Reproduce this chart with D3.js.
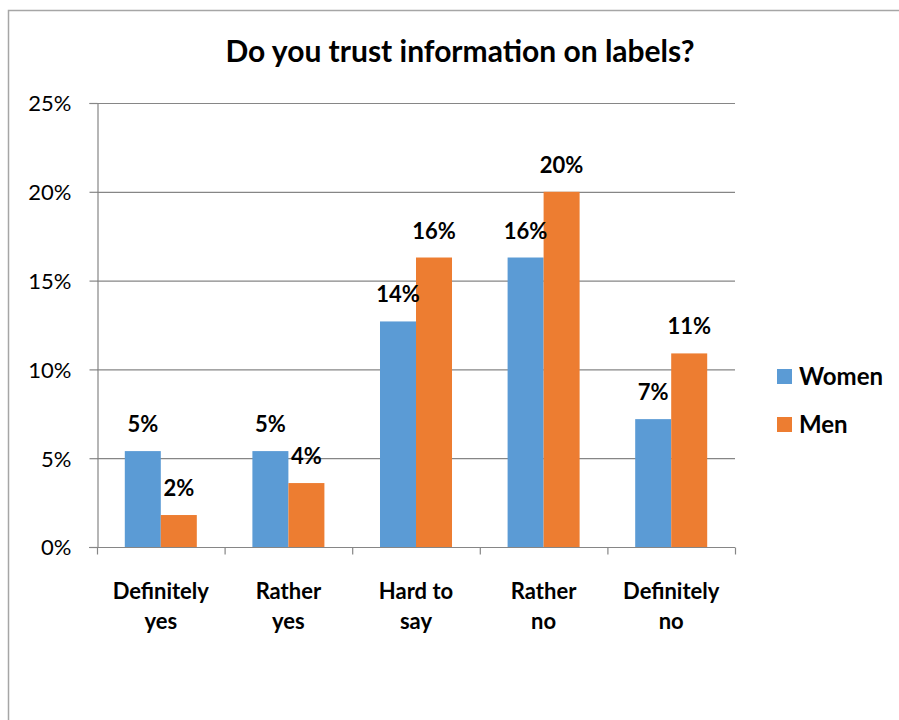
<!DOCTYPE html>
<html>
<head>
<meta charset="utf-8">
<script src="https://cdn.jsdelivr.net/npm/d3@7"></script>
<style>
  body { margin: 0; background: #fff; }
  svg { display: block; font-family: Lato, "Open Sans", sans-serif; }
</style>
</head>
<body>
<svg id="chart" width="899" height="720"></svg>
<script>
// === DATA ===
const categories = [["Definitely", "yes"], ["Rather", "yes"], ["Hard to", "say"], ["Rather", "no"], ["Definitely", "no"]];
const seriesNames = ["Women", "Men"];
const women = [5.4, 5.4, 12.7, 16.3, 7.2];
const men = [1.8, 3.6, 16.3, 20.0, 10.9];
const womenLabels = ["5%", "5%", "14%", "16%", "7%"];
const menLabels = ["2%", "4%", "16%", "20%", "11%"];
const yTicks = [0, 5, 10, 15, 20, 25];
const colors = ["#5B9BD5", "#ED7D31"];

// === LAYOUT ===
const svg = d3.select("#chart");
const plotLeft = 97, plotRight = 735, plotTop = 103, plotBottom = 547;

// chart frame
svg.append("path")
  .attr("d", "M8.5,720 V10.5 H899")
  .attr("fill", "none").attr("stroke", "#a6a6a6").attr("stroke-width", 1.5);

svg.append("text")
  .attr("x", 460).attr("y", 62)
  .attr("text-anchor", "middle")
  .attr("font-size", 30).attr("font-weight", "bold")
  .text("Do you trust information on labels?");

// === SCALES ===
const x0 = d3.scaleBand().domain(d3.range(categories.length)).range([plotLeft, plotRight]);
const x1 = d3.scaleBand().domain(seriesNames).range([0, x0.bandwidth()]).paddingOuter(0.772);
const y = d3.scaleLinear().domain([0, 25]).range([plotBottom, plotTop]);

// gridlines
svg.append("g").selectAll("line")
  .data(yTicks.slice(1))
  .join("line")
  .attr("x1", plotLeft).attr("x2", plotRight)
  .attr("y1", d => y(d) + 0.5).attr("y2", d => y(d) + 0.5)
  .attr("stroke", "#868686").attr("stroke-width", 1.2);

// y axis
const yAxis = svg.append("g")
  .attr("transform", `translate(${plotLeft + 0.5},0)`)
  .call(d3.axisLeft(y).tickValues(yTicks).tickSize(8).tickFormat(d => d + "%"));
yAxis.select(".domain").attr("stroke", "#868686").attr("stroke-width", 1.2);
yAxis.selectAll(".tick line").attr("stroke", "#868686").attr("stroke-width", 1.2);
yAxis.selectAll(".tick text")
  .attr("x", -26).attr("dy", "0.36em")
  .attr("font-size", 22).attr("fill", "#000")
  .attr("font-family", "Lato, sans-serif");

// bars
const series = [women, men];
const labels = [womenLabels, menLabels];
const groups = svg.append("g").selectAll("g")
  .data(categories.map((c, i) => i))
  .join("g")
  .attr("transform", i => `translate(${x0(i)},0)`);

groups.selectAll("rect")
  .data(i => seriesNames.map((s, k) => ({ s, k, v: series[k][i] })))
  .join("rect")
  .attr("x", d => x1(d.s))
  .attr("y", d => y(d.v))
  .attr("width", x1.bandwidth())
  .attr("height", d => y(0) - y(d.v))
  .attr("fill", d => colors[d.k]);

groups.selectAll("text.lbl")
  .data(i => seriesNames.map((s, k) => ({ s, k, v: series[k][i], t: labels[k][i] })))
  .join("text")
  .attr("class", "lbl")
  .attr("x", d => x1(d.s) + x1.bandwidth() / 2)
  .attr("y", d => y(d.v) - 19)
  .attr("text-anchor", "middle")
  .attr("font-size", 22).attr("font-weight", "bold")
  .text(d => d.t);

// x axis
const xAxis = svg.append("g").attr("transform", `translate(0,${plotBottom + 0.5})`);
xAxis.append("line").attr("x1", plotLeft - 8).attr("x2", plotRight).attr("stroke", "#868686").attr("stroke-width", 1.2);
xAxis.selectAll("line.tk")
  .data(d3.range(categories.length + 1))
  .join("line")
  .attr("class", "tk")
  .attr("x1", i => plotLeft + i * x0.step() + 0.5).attr("x2", i => plotLeft + i * x0.step() + 0.5)
  .attr("y1", 0).attr("y2", 7)
  .attr("stroke", "#868686").attr("stroke-width", 1.2);

const catText = svg.append("g").selectAll("text")
  .data(categories)
  .join("text")
  .attr("text-anchor", "middle")
  .attr("font-size", 22).attr("font-weight", "bold")
  .attr("x", (d, i) => x0(i) + x0.bandwidth() / 2);
catText.each(function(d, i) {
  d3.select(this).selectAll("tspan")
    .data(d)
    .join("tspan")
    .attr("x", x0(i) + x0.bandwidth() / 2)
    .attr("y", (t, j) => 599 + j * 30)
    .text(t => t);
});

// legend
const legend = svg.append("g").selectAll("g")
  .data(seriesNames)
  .join("g")
  .attr("transform", (d, i) => `translate(777,${369 + i * 48})`);
legend.append("rect").attr("width", 15).attr("height", 15).attr("fill", (d, i) => colors[i]);
legend.append("text")
  .attr("x", 22).attr("y", 16)
  .attr("font-size", 24).attr("font-weight", "bold")
  .text(d => d);
</script>
</body>
</html>
